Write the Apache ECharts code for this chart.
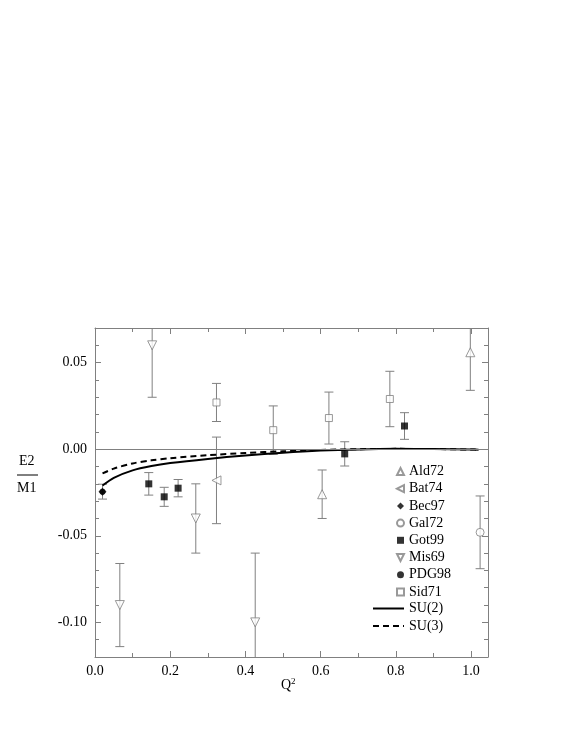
<!DOCTYPE html>
<html>
<head>
<meta charset="utf-8">
<script src="https://cdn.jsdelivr.net/npm/echarts@6/dist/echarts.min.js"></script>
<style>
html,body{margin:0;padding:0;background:#fff;}
#chart{width:572px;height:740px;}
</style>
</head>
<body>
<div id="chart"></div>
<script>
// ---- data ----
const ald72Q = [0.604, 0.998];
const ald72V = [-0.026, 0.056];
const ald72E = [0.014, 0.022];

const bat74Q = [0.323];
const bat74V = [-0.018];
const bat74E = [0.025];

const bec97Q = [0.02];
const bec97V = [-0.0245];
const bec97E = [0.0043];

const gal72Q = [1.024];
const gal72V = [-0.048];
const gal72E = [0.021];

const got99Q = [0.143, 0.184, 0.221, 0.664, 0.823];
const got99V = [-0.020, -0.0275, -0.0225, -0.0027, 0.0134];
const got99E = [0.0065, 0.0055, 0.005, 0.007, 0.0077];

const mis69Q = [0.066, 0.152, 0.268, 0.426];
const mis69V = [-0.090, 0.060, -0.040, -0.100];
const mis69E = [0.024, 0.030, 0.020, 0.040];

const pdg98Q = [0.02];
const pdg98V = [-0.0245];

const sid71Q = [0.323, 0.474, 0.622, 0.784];
const sid71V = [0.027, 0.011, 0.018, 0.029];
const sid71E = [0.011, 0.014, 0.015, 0.016];

const su2Q = [0.02, 0.05, 0.1, 0.15, 0.2, 0.3, 0.4, 0.5, 0.6, 0.7, 0.8, 0.9, 1.0, 1.02];
const su2V = [-0.021, -0.0165, -0.0122, -0.0097, -0.008, -0.0056, -0.0036, -0.002, -0.0008, -0.0001, 0.0002, 0.0001, -0.0002, -0.0003];
const su3Q = [0.02, 0.05, 0.1, 0.15, 0.2, 0.3, 0.4, 0.5, 0.6, 0.7, 0.8, 0.9, 1.0, 1.02];
const su3V = [-0.014, -0.0112, -0.0082, -0.0064, -0.0052, -0.0035, -0.0022, -0.0012, -0.0004, 0.0, 0.0002, 0.0001, -0.0002, -0.0003];

const xMajorTicks = [0, 0.2, 0.4, 0.6, 0.8, 1.0];
const yMajorTicks = [-0.10, -0.05, 0.00, 0.05];

// ---- helpers ----
const GRAY = '#808080';
const FONT = 'Liberation Serif';
const X_MIN = 0, X_MAX = 1.045, Y_MIN = -0.12, Y_MAX = 0.07;
const TRI_UP = 'path://M5,0L10,10L0,10Z';
const TRI_LEFT = 'path://M0,5L10,0L10,10Z';
const TRI_DOWN = 'path://M0,0L10,0L5,10Z';

function pts(q, v) { return q.map((x, i) => [x, v[i]]); }
function errs(q, v, e) { return q.map((x, i) => [x, v[i] - e[i], v[i] + e[i]]); }

function errRender(params, api) {
  const x = api.value(0);
  const lo = api.coord([x, api.value(1)]);
  const hi = api.coord([x, api.value(2)]);
  const hw = 4.5;
  const st = { stroke: GRAY, lineWidth: 1 };
  return {
    type: 'group',
    children: [
      { type: 'line', shape: { x1: lo[0], y1: lo[1], x2: hi[0], y2: hi[1] }, style: st },
      { type: 'line', shape: { x1: lo[0] - hw, y1: lo[1], x2: lo[0] + hw, y2: lo[1] }, style: st },
      { type: 'line', shape: { x1: hi[0] - hw, y1: hi[1], x2: hi[0] + hw, y2: hi[1] }, style: st }
    ]
  };
}
function errSeries(q, v, e) {
  return {
    type: 'custom', renderItem: errRender, data: errs(q, v, e),
    encode: { x: 0, y: [1, 2] }, clip: true, silent: true, z: 1
  };
}
const openStyle = { color: '#fff', borderColor: GRAY, borderWidth: 1 };
const fillStyle = { color: '#000' };
function sc(name, q, v, symbol, size, style) {
  return {
    name, type: 'scatter', data: pts(q, v), symbol, symbolSize: size,
    itemStyle: style, z: 3, clip: true
  };
}

function xAxisDef(pos, major) {
  return {
    type: 'value', position: pos, min: X_MIN, max: X_MAX,
    interval: major ? undefined : 0.1,
    axisLine: { show: major, onZero: false, lineStyle: { color: GRAY, width: 1 } },
    axisTick: major
      ? { show: true, inside: true, length: 6, customValues: xMajorTicks, lineStyle: { color: GRAY } }
      : { show: true, inside: true, length: 4, lineStyle: { color: GRAY } },
    axisLabel: (major && pos === 'bottom')
      ? { show: true, customValues: xMajorTicks, formatter: v => v.toFixed(1), fontFamily: FONT, fontSize: 14, color: '#000', margin: 7 }
      : { show: false },
    splitLine: { show: false }
  };
}
function yAxisDef(pos, major) {
  return {
    type: 'value', position: pos, min: Y_MIN, max: Y_MAX,
    interval: major ? undefined : 0.01,
    axisLine: { show: major, onZero: false, lineStyle: { color: GRAY, width: 1 } },
    axisTick: major
      ? { show: true, inside: true, length: 6, customValues: yMajorTicks, lineStyle: { color: GRAY } }
      : { show: true, inside: true, length: 4, lineStyle: { color: GRAY } },
    axisLabel: (major && pos === 'left')
      ? { show: true, customValues: yMajorTicks, formatter: v => v.toFixed(2), fontFamily: FONT, fontSize: 14, color: '#000', margin: 8 }
      : { show: false },
    splitLine: { show: false }
  };
}

const chart = echarts.init(document.getElementById('chart'), null, { renderer: 'canvas' });
chart.setOption({
  backgroundColor: '#fff',
  animation: false,
  grid: { left: 95, top: 328, right: 84, bottom: 83, containLabel: false },
  xAxis: [xAxisDef('bottom', true), xAxisDef('bottom', false), xAxisDef('top', true), xAxisDef('top', false)],
  yAxis: [yAxisDef('left', true), yAxisDef('left', false), yAxisDef('right', true), yAxisDef('right', false)],
  legend: [
    {
      orient: 'vertical', left: 391, top: 458, itemWidth: 7, itemHeight: 7, itemGap: 0.2,
      data: [
        { name: 'Ald72', icon: TRI_UP },
        { name: 'Bat74', icon: TRI_LEFT },
        { name: 'Bec97', icon: 'diamond' },
        { name: 'Gal72', icon: 'circle' },
        { name: 'Got99', icon: 'rect' },
        { name: 'Mis69', icon: TRI_DOWN },
        { name: 'PDG98', icon: 'circle' },
        { name: 'Sid71', icon: 'rect' }
      ],
      textStyle: { fontFamily: FONT, fontSize: 14, color: '#000', lineHeight: 17 },
      selectedMode: false
    },
    {
      orient: 'vertical', left: 367, top: 595, itemWidth: 31, itemHeight: 10, itemGap: 0.6,
      data: ['SU(2)', 'SU(3)'],
      itemStyle: { opacity: 0 },
      textStyle: { fontFamily: FONT, fontSize: 14, color: '#000', lineHeight: 17 },
      selectedMode: false
    }
  ],
  graphic: [
    { type: 'text', left: 19, top: 454, style: { text: 'E2', font: '14px "Liberation Serif"', fill: '#000' } },
    { type: 'line', shape: { x1: 17, y1: 475, x2: 38, y2: 475 }, style: { stroke: '#000', lineWidth: 1 } },
    { type: 'text', left: 17, top: 481, style: { text: 'M1', font: '14px "Liberation Serif"', fill: '#000' } },
    { type: 'text', left: 281, top: 677, style: {
        text: 'Q{s|2}', font: '14px "Liberation Serif"', fill: '#000',
        rich: { s: { fontSize: 9, fontFamily: FONT, verticalAlign: 'top', padding: [0, 0, 8, 0] } }
      } }
  ],
  series: [
    {
      name: 'zero', type: 'line', data: [], silent: true,
      markLine: { silent: true, symbol: 'none', label: { show: false }, lineStyle: { color: GRAY, width: 1, type: 'solid' }, data: [{ yAxis: 0 }] }
    },
    errSeries(ald72Q, ald72V, ald72E),
    errSeries(bat74Q, bat74V, bat74E),
    errSeries(bec97Q, bec97V, bec97E),
    errSeries(gal72Q, gal72V, gal72E),
    errSeries(got99Q, got99V, got99E),
    errSeries(mis69Q, mis69V, mis69E),
    errSeries(sid71Q, sid71V, sid71E),
    {
      name: 'SU(2)', type: 'line', data: pts(su2Q, su2V), symbol: 'none', showSymbol: false, smooth: 0.3,
      lineStyle: { color: '#000', width: 2, type: 'solid' }, itemStyle: { color: '#000' }, z: 2
    },
    {
      name: 'SU(3)', type: 'line', data: pts(su3Q, su3V), symbol: 'none', showSymbol: false, smooth: 0.3,
      lineStyle: { color: '#000', width: 2, type: [6, 4] }, itemStyle: { color: '#000' }, z: 2
    },
    sc('Ald72', ald72Q, ald72V, TRI_UP, 9, openStyle),
    sc('Bat74', bat74Q, bat74V, TRI_LEFT, 9, openStyle),
    sc('Bec97', bec97Q, bec97V, 'diamond', 8, fillStyle),
    sc('Gal72', gal72Q, gal72V, 'circle', 8, openStyle),
    sc('Got99', got99Q, got99V, 'rect', 7, fillStyle),
    sc('Mis69', mis69Q, mis69V, TRI_DOWN, 9, openStyle),
    sc('PDG98', pdg98Q, pdg98V, 'circle', 6, fillStyle),
    sc('Sid71', sid71Q, sid71V, 'rect', 7, openStyle)
  ]
});
</script>
</body>
</html>
